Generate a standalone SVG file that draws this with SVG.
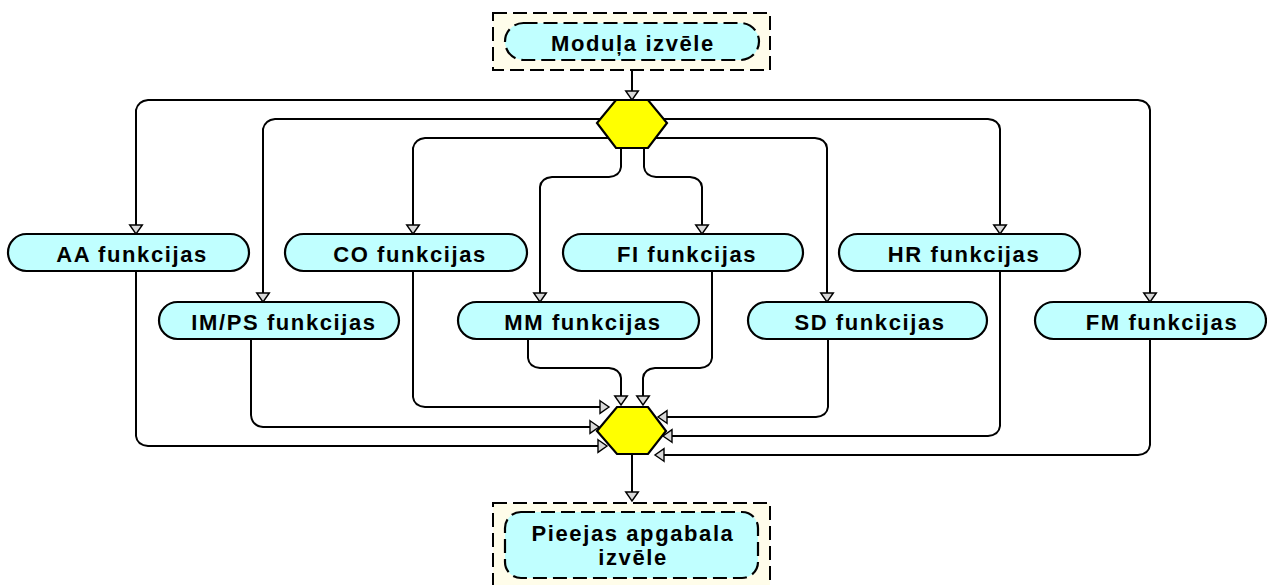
<svg xmlns="http://www.w3.org/2000/svg" width="1267" height="585" viewBox="0 0 1267 585">
<style>
.bg{fill:#ffffff}
.frame{fill:#fffdea;stroke:#000;stroke-width:2;stroke-dasharray:14 6}
.pill{fill:#c0ffff;stroke:#000;stroke-width:2.2}
.dpill{fill:#c0ffff;stroke:#000;stroke-width:2.2;stroke-dasharray:14 6}
.hex{fill:#ffff00;stroke:#000;stroke-width:2.2;stroke-linejoin:miter}
.lbl{font-family:"Liberation Sans",Arial,sans-serif;font-weight:bold;font-size:22px;letter-spacing:1.6px;fill:#000;text-anchor:middle}
.con{fill:none;stroke:#000;stroke-width:2;marker-end:url(#arr)}
</style>
<defs>
<marker id="arr" viewBox="0 0 10 14" refX="0.5" refY="7" markerWidth="10" markerHeight="14" markerUnits="userSpaceOnUse" orient="auto" overflow="visible">
<path d="M0.5,0.7 L9.5,7 L0.5,13.3 Z" fill="#d9d9d9" stroke="#000" stroke-width="1.4" stroke-linejoin="miter"/>
</marker>
</defs>
<rect class="bg" x="0" y="0" width="1267" height="585"/>
<g id="connectors">
<path class="con" d="M632,70 V91"/>
<path class="con" d="M616,100 H148 Q138,101 136,110 V225"/>
<path class="con" d="M648,100 H1138 Q1149,101 1150,110 V293"/>
<path class="con" d="M600,119 H275 Q265,120 263,129 V293"/>
<path class="con" d="M664,119 H988 Q999,120 1000,129 V225"/>
<path class="con" d="M608,138 H425 Q415,139 413,148 V225"/>
<path class="con" d="M656,138 H815 Q826,139 827,148 V293"/>
<path class="con" d="M621,148 V167 Q620,176 609,177 H552 Q541,178 540,187 V293"/>
<path class="con" d="M644,148 V167 Q645,176 656,177 H690 Q701,178 702,187 V225"/>
<path class="con" d="M136,271 V436 Q137,445 148,446 H598"/>
<path class="con" d="M251,338 V415 Q252,426 263,427 H590"/>
<path class="con" d="M413,271 V397 Q414,406 425,407 H600"/>
<path class="con" d="M528,338 V358 Q529,367 540,368 H609 Q620,369 621,378 V396"/>
<path class="con" d="M712,271 V358 Q711,367 700,368 H655 Q644,369 643,378 V396"/>
<path class="con" d="M828,338 V407 Q827,416 816,417 H667"/>
<path class="con" d="M1000,271 V426 Q999,435 988,436 H672"/>
<path class="con" d="M1150,339 V445 Q1149,454 1138,455 H664"/>
<path class="con" d="M632,454 V492"/>
</g>
<g id="modula-izvele">
<rect class="frame" x="493" y="13" width="277" height="57"/>
<rect class="dpill" x="505" y="23" width="254" height="37" rx="18.5" ry="18.5"/>
<text class="lbl" x="633" y="51">Moduļa izvēle</text>
</g>
<g id="split">
<polygon class="hex" points="616,100 648,100 667,123 648,148 616,148 597,123"/>
</g>
<g id="aa">
<rect class="pill" x="8" y="234" width="241" height="37" rx="18.5" ry="18.5"/>
<text class="lbl" x="132" y="262">AA funkcijas</text>
</g>
<g id="co">
<rect class="pill" x="285" y="234" width="242" height="37" rx="18.5" ry="18.5"/>
<text class="lbl" x="410" y="262">CO funkcijas</text>
</g>
<g id="fi">
<rect class="pill" x="563" y="234" width="240" height="37" rx="18.5" ry="18.5"/>
<text class="lbl" x="687" y="262">FI funkcijas</text>
</g>
<g id="hr">
<rect class="pill" x="839" y="234" width="241" height="37" rx="18.5" ry="18.5"/>
<text class="lbl" x="964" y="262">HR funkcijas</text>
</g>
<g id="imps">
<rect class="pill" x="159" y="302" width="240" height="37" rx="18.5" ry="18.5"/>
<text class="lbl" x="284" y="330">IM/PS funkcijas</text>
</g>
<g id="mm">
<rect class="pill" x="458" y="302" width="241" height="37" rx="18.5" ry="18.5"/>
<text class="lbl" x="583" y="330">MM funkcijas</text>
</g>
<g id="sd">
<rect class="pill" x="748" y="302" width="239" height="37" rx="18.5" ry="18.5"/>
<text class="lbl" x="870" y="330">SD funkcijas</text>
</g>
<g id="fm">
<rect class="pill" x="1035" y="302" width="231" height="37" rx="18.5" ry="18.5"/>
<text class="lbl" x="1162" y="330">FM funkcijas</text>
</g>
<g id="join">
<polygon class="hex" points="617,407 648,407 666,431 648,454 617,454 597,431"/>
</g>
<g id="pieejas-apgabala-izvele">
<rect class="frame" x="493" y="503" width="277" height="95"/>
<rect class="dpill" x="505" y="512" width="253" height="66" rx="16" ry="16"/>
<text class="lbl" x="633" y="541">Pieejas apgabala</text>
<text class="lbl" x="633" y="565">izvēle</text>
</g>
</svg>
